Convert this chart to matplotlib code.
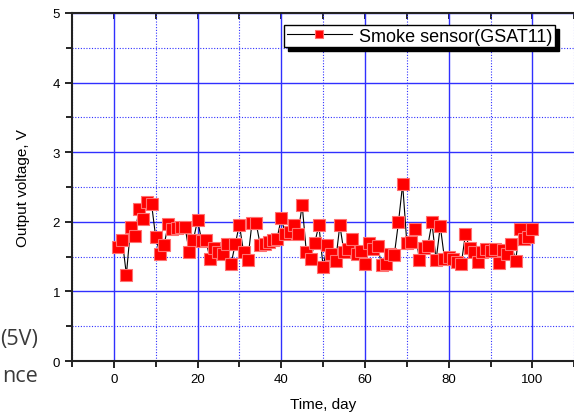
import matplotlib
matplotlib.use("Agg")
import matplotlib.pyplot as plt
import numpy as np
from matplotlib.ticker import MultipleLocator

# smoke sensor readings, one per day
days = list(range(1, 101))
voltage = [
    1.64, 1.74, 1.24, 1.92, 1.80, 2.18, 2.04, 2.28, 2.26, 1.78,
    1.54, 1.66, 1.97, 1.89, 1.91, 1.92, 1.93, 1.57, 1.74, 2.02,
    1.73, 1.74, 1.46, 1.63, 1.56, 1.54, 1.68, 1.39, 1.68, 1.96,
    1.56, 1.45, 1.98, 1.98, 1.66, 1.68, 1.71, 1.74, 1.76, 2.05,
    1.82, 1.85, 1.95, 1.83, 2.24, 1.56, 1.46, 1.70, 1.95, 1.35,
    1.66, 1.54, 1.44, 1.95, 1.56, 1.61, 1.75, 1.54, 1.58, 1.40,
    1.70, 1.61, 1.65, 1.38, 1.39, 1.54, 1.52, 1.99, 2.54, 1.70,
    1.71, 1.90, 1.45, 1.62, 1.65, 1.99, 1.45, 1.94, 1.47, 1.49,
    1.46, 1.42, 1.39, 1.82, 1.62, 1.56, 1.42, 1.56, 1.61, 1.58,
    1.61, 1.41, 1.60, 1.54, 1.68, 1.44, 1.90, 1.75, 1.78, 1.90,
]
x_ticks = [0, 20, 40, 60, 80, 100]
y_ticks = [0, 1, 2, 3, 4, 5]

plt.rcParams['font.family'] = ['Liberation Sans', 'DejaVu Sans']

fig = plt.figure(figsize=(5.74, 4.14), dpi=100)
ax = fig.add_axes([0.1254, 0.1256, 0.875, 0.8406])

ax.plot(days, voltage, color='black', lw=0.8, marker='s', markersize=8.6,
        markerfacecolor='red', markeredgecolor='#ff7070', markeredgewidth=0.8,
        label='Smoke sensor(GSAT11)', zorder=3)

ax.set_xlim(-10, 110)
ax.set_ylim(0, 5)
ax.set_xticks(x_ticks)
ax.set_yticks(y_ticks)
ax.set_xticks(list(range(-10, 111, 10)), minor=True)
ax.yaxis.set_minor_locator(MultipleLocator(0.5))

ax.grid(which='major', color='#3030ff', lw=1.0, ls='-')
ax.grid(which='minor', color='#3030ff', lw=0.8, ls=(0, (1, 1.5)))
ax.set_axisbelow(True)

for s in ['left', 'bottom', 'top']:
    ax.spines[s].set_linewidth(1.5)
    ax.spines[s].set_color('#222222')
ax.spines['right'].set_visible(False)

ax.tick_params(which='both', direction='out', top=False, right=False,
               labelsize=9.5, width=1.2)
ax.tick_params(which='major', length=5)
ax.tick_params(which='minor', length=4)

# inward ticks on the top spine
top = ax.secondary_xaxis('top')
top.set_xticks(x_ticks)
top.set_xticks(list(range(-10, 111, 10)), minor=True)
top.tick_params(which='both', direction='in', labeltop=False, length=4, width=1.2)
top.spines['top'].set_visible(False)

ax.set_xlabel('Time, day', fontsize=11, labelpad=9)
ax.set_ylabel('Output voltage, V', fontsize=11, labelpad=16)

leg = ax.legend(loc='upper right', bbox_to_anchor=(0.962, 0.966), borderaxespad=0,
                fancybox=False, framealpha=1, edgecolor='black', fontsize=13,
                shadow={'color': 'black', 'alpha': 1, 'ox': 3, 'oy': -3},
                handlelength=3.6, markerscale=0.7,
                borderpad=0.15, handletextpad=0.4)
leg.get_frame().set_linewidth(1.0)

# text cut off at the left edge of the source picture
fig.text(38 / 574, 1 - 340 / 414, '(5V)', ha='right', va='center', fontsize=15.5,
         color='#3a3a3a', family=['Open Sans', 'DejaVu Sans'])
fig.text(38 / 574, 1 - 382 / 414, 'nce', ha='right', va='baseline', fontsize=15.5,
         color='#3a3a3a', family=['Open Sans', 'DejaVu Sans'])

fig.savefig('out.png', dpi=100)
